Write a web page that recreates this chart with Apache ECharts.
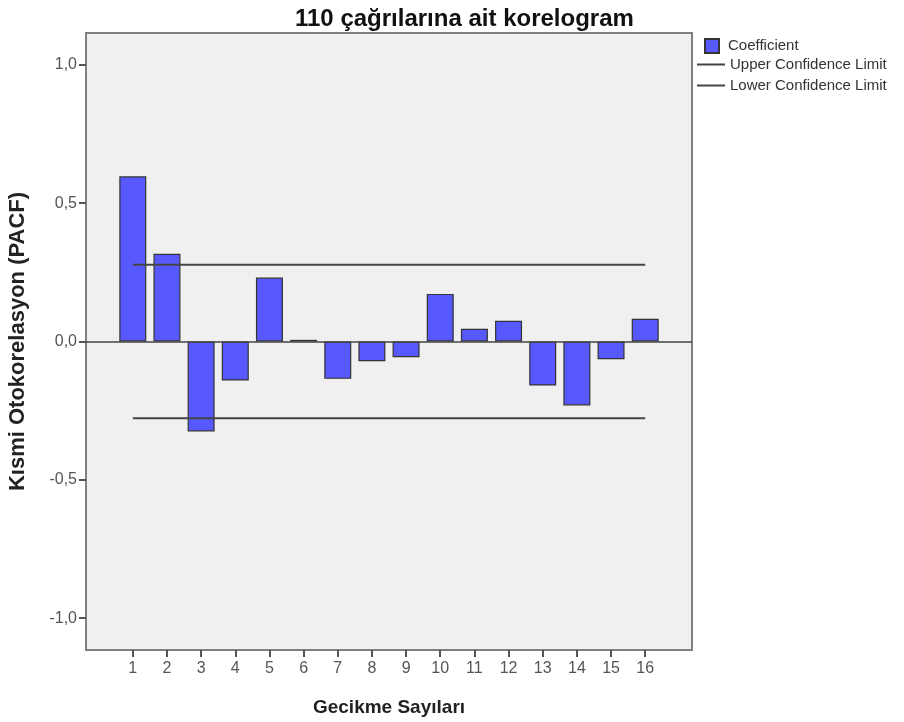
<!DOCTYPE html>
<html>
<head>
<meta charset="utf-8">
<script src="https://cdn.jsdelivr.net/npm/echarts@6/dist/echarts.min.js"></script>
<style>
  html, body { margin: 0; padding: 0; background: #ffffff; }
  #chart { width: 904px; height: 722px; }
</style>
</head>
<body>
<div id="chart"></div>
<script>
// Partial autocorrelation of the 110 call series, lags 1..16
const lags = [1, 2, 3, 4, 5, 6, 7, 8, 9, 10, 11, 12, 13, 14, 15, 16];
const pacf = [0.597, 0.317, -0.325, -0.141, 0.231, 0.006, -0.135, -0.071,
              -0.057, 0.172, 0.046, 0.075, -0.159, -0.231, -0.064, 0.082];
const upperLimit = lags.map(() => 0.277);
const lowerLimit = lags.map(() => -0.277);
const yTicks = [-1, -0.5, 0, 0.5, 1];

const chart = echarts.init(document.getElementById('chart'), null, { renderer: 'canvas' });

const fmtComma = v => v.toFixed(1).replace('.', ',');

chart.setOption({
  animation: false,
  backgroundColor: '#ffffff',
  title: {
    text: '110 çağrılarına ait korelogram',
    left: 290,
    top: 2,
    textStyle: { fontFamily: 'Liberation Sans', fontWeight: 'bold', fontSize: 24, color: '#111' }
  },
  legend: [
    {
      data: ['Coefficient'],
      left: 704,
      top: 38,
      padding: 0,
      itemWidth: 14,
      itemHeight: 14,
      icon: 'rect',
      textStyle: { fontFamily: 'Liberation Sans', fontSize: 15, color: '#333', padding: [0, 0, 0, 4] }
    },
    {
      data: ['Upper Confidence Limit', 'Lower Confidence Limit'],
      orient: 'vertical',
      left: 697,
      top: 56,
      padding: 0,
      itemGap: 4,
      itemWidth: 28,
      itemHeight: 2,
      icon: 'rect',
      textStyle: { fontFamily: 'Liberation Sans', fontSize: 15, color: '#333', lineHeight: 17 }
    }
  ],
  grid: {
    left: 86,
    right: 212,
    top: 33,
    bottom: 72,
    outerBoundsMode: 'none',
    containLabel: false,
    show: true,
    backgroundColor: '#f0f0f0',
    borderColor: '#808080',
    borderWidth: 2
  },
  xAxis: {
    type: 'value',
    min: -0.37,
    max: 17.37,
    name: 'Gecikme Sayıları',
    nameLocation: 'middle',
    nameGap: 48,
    nameTextStyle: { fontFamily: 'Liberation Sans', fontWeight: 'bold', fontSize: 19, color: '#222' },
    axisLine: { show: false, onZero: false },
    splitLine: { show: false },
    axisTick: { show: true, inside: false, length: 7, customValues: lags, lineStyle: { color: '#555', width: 2 } },
    axisLabel: {
      customValues: lags,
      margin: 11,
      fontFamily: 'Liberation Sans',
      fontSize: 16,
      color: '#555'
    }
  },
  yAxis: {
    type: 'value',
    min: -1.115,
    max: 1.115,
    name: 'Kısmi Otokorelasyon (PACF)',
    nameLocation: 'middle',
    nameRotate: 90,
    nameGap: 57,
    nameTextStyle: { fontFamily: 'Liberation Sans', fontWeight: 'bold', fontSize: 22, color: '#222' },
    axisLine: { show: false, onZero: false },
    splitLine: { show: false },
    axisTick: { show: true, inside: false, length: 7, customValues: yTicks, lineStyle: { color: '#555', width: 2 } },
    axisLabel: {
      customValues: yTicks,
      formatter: fmtComma,
      margin: 9,
      fontFamily: 'Liberation Sans',
      fontSize: 16,
      color: '#555'
    }
  },
  series: [
    {
      name: 'Coefficient',
      type: 'bar',
      barWidth: 27,
      data: lags.map((l, i) => [l, pacf[i]]),
      itemStyle: { color: '#5858ff', borderColor: '#333', borderWidth: 1.2 },
      markLine: {
        silent: true,
        symbol: ['none', 'none'],
        label: { show: false },
        lineStyle: { color: '#444', type: 'solid', width: 1.6 },
        data: [{ yAxis: 0 }]
      },
      z: 3
    },
    {
      name: 'Upper Confidence Limit',
      type: 'line',
      symbol: 'none',
      data: lags.map((l, i) => [l, upperLimit[i]]),
      lineStyle: { color: '#444', width: 2 },
      itemStyle: { color: '#444' },
      z: 4
    },
    {
      name: 'Lower Confidence Limit',
      type: 'line',
      symbol: 'none',
      data: lags.map((l, i) => [l, lowerLimit[i]]),
      lineStyle: { color: '#444', width: 2 },
      itemStyle: { color: '#444' },
      z: 4
    }
  ]
});
</script>
</body>
</html>
